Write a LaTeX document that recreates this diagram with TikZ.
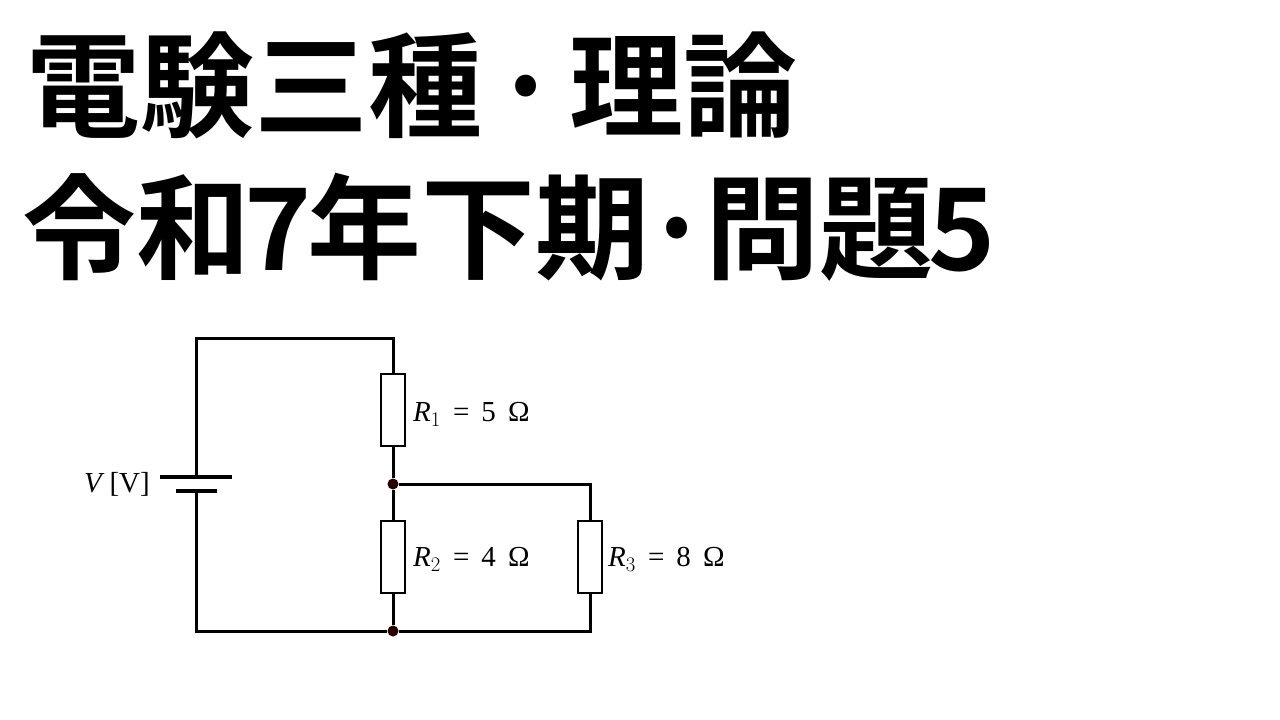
\documentclass[tikz,border=0pt]{standalone}
\usepackage{fontspec}
\setmainfont{Liberation Serif}
\newfontfamily\cjk{Noto Sans CJK JP}[BoldFont={* Bold}]
\begin{document}
\begin{tikzpicture}[x=1pt,y=-1pt,
  w/.style={line width=3pt},
  res/.style={draw,line width=2.6pt,fill=white,minimum width=24pt,minimum height=72pt,inner sep=0pt},
  dot/.style={circle,fill=black!85!red,minimum size=11pt,inner sep=0pt},
  lab/.style={anchor=west,font=\fontsize{29}{29}\selectfont,inner sep=0pt},
  ttl/.style={anchor=base west,font=\cjk\bfseries\fontsize{114}{114}\selectfont,inner sep=0pt}]
\useasboundingbox (0,0) rectangle (1280,720);
\node[ttl] (t1) at (26,128) {電験三種\kern10pt·\kern10pt理論};
\node[ttl] (t2) at (22,270) {令和\kern-6pt7\kern-4pt年下期\kern-6pt·\kern-6pt問題\kern-4pt5};
\coordinate (tl) at (196,338);
\coordinate (tr) at (393,338);
\coordinate (bl) at (196,631);
\coordinate (mr) at (590,484);
\coordinate (br) at (590,631);
\coordinate (bp) at (196,477);
\coordinate (bn) at (196,491);
\node[dot] (j1) at (393,484) {};
\node[dot] (j2) at (393,631) {};
\node[res] (r1) at (393,410) {};
\node[res] (r2) at (393,557) {};
\node[res] (r3) at (590,557) {};
\draw[w] (bp) -- (tl) -- (tr) -- (r1.north);
\draw[w] (r1.south) -- (j1) -- (r2.north);
\draw[w] (r2.south) -- (j2);
\draw[w] (j1) -- (mr) -- (r3.north);
\draw[w] (r3.south) -- (br) -- (j2) -- (bl) -- (bn);
\draw[line width=3.2pt] (160,477) -- (232,477);
\draw[line width=3.2pt] (176,491) -- (217,491);
\node[lab,anchor=east] (v) at (150,484) {\textit{V}\,[V]};
\node[lab] (l1) at (413,414) {$\mathit{R}_1$\, =\, 5\, Ω};
\node[lab] (l2) at (413,559) {$\mathit{R}_2$\, =\, 4\, Ω};
\node[lab] (l3) at (608,559) {$\mathit{R}_3$\, =\, 8\, Ω};
\end{tikzpicture}
\end{document}
